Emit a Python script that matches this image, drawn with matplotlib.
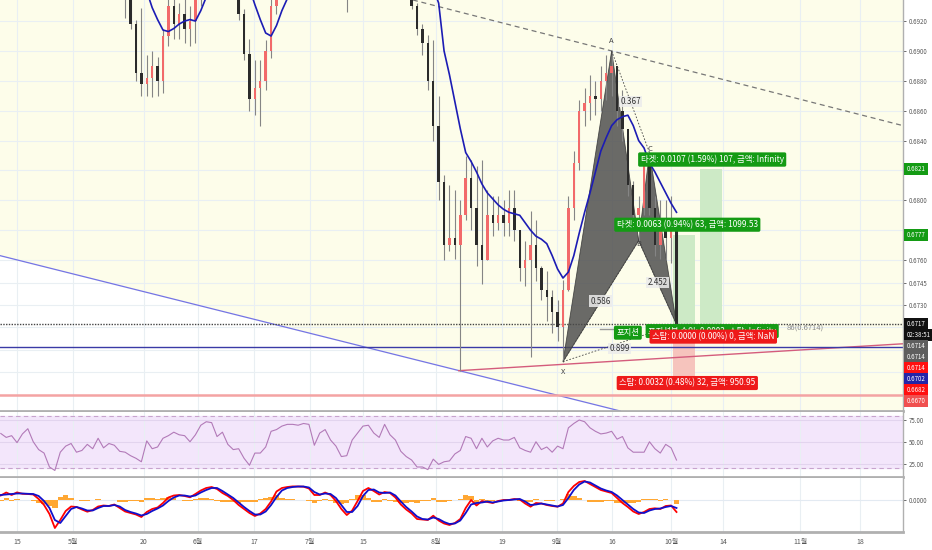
import numpy as np
import matplotlib
matplotlib.use('Agg')
import matplotlib.pyplot as plt
from matplotlib.patches import Polygon, Rectangle
import matplotlib.transforms as mtransforms

plt.rcParams['font.family'] = ['Noto Sans CJK KR', 'DejaVu Sans']

# 일봉 데이터 (거래일 인덱스 -3 ~ 122, 0 = 4월 15일)
first_day = -3
first_open = 0.7130
closes = [0.7140, 0.7160, 0.7150, 0.7150, 0.7170, 0.7160, 0.7145, 0.7135, 0.7140, 0.7115,
          0.7080, 0.7050, 0.7045, 0.7040, 0.7050, 0.7020, 0.7010, 0.7000, 0.7020, 0.7000,
          0.7005, 0.6990, 0.6965, 0.6935, 0.6918, 0.6885, 0.6878, 0.6882, 0.6890, 0.6880,
          0.6910, 0.6930, 0.6918, 0.6925, 0.6915, 0.6920, 0.6935, 0.6955, 0.6960, 0.6980,
          0.6990, 0.6975, 0.6970, 0.6955, 0.6925, 0.6898, 0.6868, 0.6875, 0.6880, 0.6900,
          0.6930, 0.6955, 0.6965, 0.6980, 0.6990, 0.6985, 0.6995, 0.7010, 0.6990, 0.6975,
          0.6985, 0.6970, 0.6960, 0.6945, 0.6950, 0.6965, 0.6985, 0.7010, 0.7030, 0.7040,
          0.7030, 0.7040, 0.7020, 0.7000, 0.6985, 0.6965, 0.6930, 0.6915, 0.6905, 0.6880,
          0.6850, 0.6812, 0.6770, 0.6775, 0.6770, 0.6790, 0.6815, 0.6795, 0.6770, 0.6760,
          0.6790, 0.6785, 0.6790, 0.6785, 0.6795, 0.6780, 0.6755, 0.6760, 0.6770, 0.6755,
          0.6740, 0.6735, 0.6725, 0.6715, 0.6740, 0.6795, 0.6825, 0.6860, 0.6865, 0.6870,
          0.6868, 0.6880, 0.6885, 0.6890, 0.6860, 0.6848, 0.6810, 0.6790, 0.6795, 0.6825,
          0.6795, 0.6770, 0.6785, 0.6775, 0.6780, 0.6717]
highs = [0.7165, 0.7175, 0.7170, 0.7165, 0.7190, 0.7180, 0.7170, 0.7155, 0.7160, 0.7150,
         0.7120, 0.7090, 0.7065, 0.7060, 0.7070, 0.7060, 0.7030, 0.7025, 0.7035, 0.7030,
         0.7020, 0.7015, 0.6995, 0.6970, 0.6940, 0.6921, 0.6929, 0.6897, 0.6900, 0.6896,
         0.6915, 0.6940, 0.6945, 0.6932, 0.6935, 0.6930, 0.6940, 0.6960, 0.6975, 0.6995,
         0.7005, 0.7000, 0.6990, 0.6980, 0.6960, 0.6928, 0.6908, 0.6894, 0.6894, 0.6907,
         0.6936, 0.6965, 0.6980, 0.6995, 0.7005, 0.7000, 0.7010, 0.7025, 0.7015, 0.6995,
         0.6995, 0.6990, 0.6980, 0.6970, 0.6960, 0.6975, 0.6995, 0.7020, 0.7045, 0.7060,
         0.7050, 0.7055, 0.7045, 0.7030, 0.7010, 0.6995, 0.6965, 0.6932, 0.6918, 0.6911,
         0.6907, 0.6870, 0.6817, 0.6810, 0.6807, 0.6800, 0.6830, 0.6827, 0.6823, 0.6827,
         0.6807, 0.6803, 0.6803, 0.6800, 0.6807, 0.6807, 0.6780, 0.6773, 0.6793, 0.6787,
         0.6756, 0.6753, 0.6740, 0.6733, 0.6747, 0.6803, 0.6833, 0.6867, 0.6875, 0.6884,
         0.6880, 0.6890, 0.6897, 0.6900, 0.6887, 0.6874, 0.6843, 0.6813, 0.6803, 0.6830,
         0.6832, 0.6803, 0.6800, 0.6800, 0.6803, 0.6786]
lows = [0.7120, 0.7130, 0.7135, 0.7130, 0.7140, 0.7145, 0.7130, 0.7120, 0.7120, 0.7100,
        0.7070, 0.7040, 0.7030, 0.7020, 0.7030, 0.7010, 0.6995, 0.6985, 0.6990, 0.6985,
        0.6985, 0.6975, 0.6950, 0.6922, 0.6915, 0.6880, 0.6870, 0.6870, 0.6869, 0.6870,
        0.6872, 0.6903, 0.6908, 0.6908, 0.6905, 0.6903, 0.6905, 0.6930, 0.6940, 0.6950,
        0.6965, 0.6960, 0.6955, 0.6940, 0.6921, 0.6894, 0.6860, 0.6857, 0.6850, 0.6874,
        0.6895, 0.6925, 0.6945, 0.6955, 0.6970, 0.6965, 0.6975, 0.6985, 0.6975, 0.6955,
        0.6960, 0.6955, 0.6945, 0.6938, 0.6926, 0.6940, 0.6955, 0.6975, 0.7000, 0.7020,
        0.7015, 0.7020, 0.7005, 0.6985, 0.6970, 0.6950, 0.6928, 0.6911, 0.6897, 0.6874,
        0.6840, 0.6800, 0.6760, 0.6766, 0.6761, 0.6686, 0.6787, 0.6780, 0.6756, 0.6744,
        0.6760, 0.6776, 0.6780, 0.6776, 0.6776, 0.6773, 0.6746, 0.6743, 0.6695, 0.6746,
        0.6733, 0.6719, 0.6711, 0.6706, 0.6692, 0.6739, 0.6787, 0.6820, 0.6850, 0.6854,
        0.6857, 0.6860, 0.6867, 0.6870, 0.6850, 0.6840, 0.6803, 0.6783, 0.6773, 0.6790,
        0.6790, 0.6763, 0.6761, 0.6760, 0.6758, 0.6716]
ma = [0.7175, 0.7172, 0.7170, 0.7168, 0.7166, 0.7163, 0.7160, 0.7156, 0.7152, 0.7146,
      0.7138, 0.7128, 0.7118, 0.7108, 0.7098, 0.7088, 0.7076, 0.7064, 0.7052, 0.7040,
      0.7028, 0.7015, 0.7002, 0.6990, 0.6975, 0.6962, 0.6950, 0.6940, 0.6929, 0.6921,
      0.6914, 0.6913, 0.6915, 0.6918, 0.6920, 0.6921, 0.6920, 0.6927, 0.6936, 0.6945,
      0.6955, 0.6962, 0.6966, 0.6966, 0.6962, 0.6955, 0.6942, 0.6931, 0.6921, 0.6912,
      0.6910, 0.6917, 0.6927, 0.6935, 0.6945, 0.6955, 0.6965, 0.6975, 0.6980, 0.6982,
      0.6982, 0.6980, 0.6975, 0.6970, 0.6965, 0.6963, 0.6965, 0.6970, 0.6980, 0.6992,
      0.7002, 0.7010, 0.7015, 0.7015, 0.7010, 0.7002, 0.6990, 0.6978, 0.6965, 0.6952,
      0.6942, 0.6932, 0.6900, 0.6884, 0.6866, 0.6848, 0.6832, 0.6826, 0.6819, 0.6811,
      0.6805, 0.6801, 0.6797, 0.6794, 0.6792, 0.6791, 0.6790, 0.6785, 0.6780, 0.6776,
      0.6774, 0.6771, 0.6763, 0.6754, 0.6748, 0.6752, 0.6763, 0.6778, 0.6792, 0.6805,
      0.6819, 0.6833, 0.6842, 0.6850, 0.6854, 0.6856, 0.6857, 0.6850, 0.6840, 0.6835,
      0.6825, 0.6819, 0.6812, 0.6805, 0.6798, 0.6792]
rsi = [59.5, 55, 57, 49, 59, 65, 50, 41, 37, 21,
       17, 38, 45, 48, 38, 40, 47, 42, 54, 43,
       48, 46, 39, 38, 34, 31, 27, 51, 42, 44,
       54, 57, 61, 58, 57, 50, 58, 69, 73, 72,
       56, 61, 47, 41, 42, 31, 23, 37, 37, 44,
       62, 64, 68, 70, 70, 69, 71, 70, 46, 60,
       64, 52, 45, 33, 34, 52, 60, 68, 69, 60,
       55, 70, 58, 52, 39, 33, 29, 21, 21, 18,
       30, 24, 27, 28, 36, 40, 56, 54, 42, 54,
       44, 51, 54, 52, 52, 55, 43, 40, 38, 50,
       41, 44, 38, 45, 42, 66, 71, 75, 73, 66,
       62, 59, 60, 62, 53, 56, 43, 38, 38, 38,
       50, 42, 37, 47, 43, 29]
# MACD (단위 0.0001)
macd = [4.5, 7.5, 5, 7.6, 6.2, 6, 5.5, 1, -5, -14,
        -28, -20, -11, -6.5, -7, -9.5, -11.7, -10, -6.5, -5.5,
        -6, -4.5, -8, -11.5, -13, -14.5, -17, -12, -9, -7.5,
        -3, 2.5, 4.5, 5, 4, 2.7, 6, 9.5, 12, 13,
        11, 7, 4, 0, -5, -9, -13, -16, -13.5, -9,
        -1.5, 8.5, 12, 13, 13.6, 13.5, 13.3, 11.5, 5, 5,
        7.5, 5, -1, -9, -15, -10.5, -1, 9, 12, 9,
        5.5, 8, 7, 2.5, -4.5, -9.5, -13.5, -19, -19.5, -20,
        -15.7, -20.5, -23.5, -25, -23, -19, -8, 0, -5.5, -1,
        -2, -3, -1, 0, 0, 1, 0.5, -3.5, -6.7, -3,
        -3.5, -5, -6, -6.7, -3.5, 8, 14, 18, 19, 16,
        13, 10, 8.5, 7, 2, -3, -7, -11.5, -14, -12,
        -9, -8.3, -9, -6, -5.5, -12]
signal = [5, 5.5, 6, 6.5, 6.5, 6.2, 6, 4, -1, -8,
          -20, -23, -16, -9, -7, -8.5, -10.5, -10.5, -8, -6,
          -6, -5, -6.5, -10, -12, -13.5, -15.5, -14, -11, -8.5,
          -5.5, -1, 2.5, 4.5, 4.5, 3.5, 4.5, 7.5, 10, 12,
          12, 9, 5.5, 2, -2.5, -7, -11, -14.5, -14.5, -11.5,
          -5, 3, 9.5, 12, 13, 13.5, 13.5, 12.5, 8, 5.5,
          6.5, 6, 2, -5, -12, -12, -6, 4, 10, 10.5,
          7.5, 7, 7.5, 4.5, -1.5, -7, -11.5, -16.5, -19, -19.5,
          -17.5, -19, -22, -24, -23.5, -20.5, -13, -4.5, -3, -2.5,
          -1.5, -2.5, -1.5, -0.5, 0, 0.5, 1, -1.5, -5, -4.5,
          -3.5, -4.5, -5.5, -6.5, -5, 2, 10, 15.5, 18.5, 17.5,
          14.5, 11.5, 9.5, 8, 4.5, 0, -4.5, -9, -12.5, -13,
          -10.5, -9, -8.5, -7, -6, -8]
hist = [-0.5, 2, -1, 1, -0.3, -0.2, -0.5, -3, -4, -6,
        -8, 3, 5, 2.5, 0, -1, -1.2, 0.5, 1.5, 0.5,
        0, 0.5, -1.5, -1.5, -1, -1, -1.5, 2, 2, 1,
        2.5, 3.5, 2, 0.5, -0.5, -0.8, 1.5, 2, 2, 1,
        -1, -2, -1.5, -2, -2.5, -2, -2, -1.5, 1, 2.5,
        3.5, 5.5, 2.5, 1, 0.6, 0, -0.2, -1, -3, -0.5,
        1, -1, -3, -4, -3, 1.5, 5, 5, 2, -1.5,
        -2, 1, -0.5, -2, -3, -2.5, -2, -2.5, -0.5, -0.5,
        1.8, -1.5, -1.5, -1, 0.5, 1.5, 5, 4.5, -2.5, 1.5,
        -0.5, -0.5, 0.5, 0.5, 0, 0.5, -0.5, -2, -1.7, 1.5,
        0, -0.5, -0.5, -0.2, 1.5, 6, 4, 2.5, 0.5, -1.5,
        -1.5, -1.5, -1, -1, -2.5, -3, -2.5, -2.5, -1.5, 1,
        1.5, 0.7, -0.5, 1, 0.5, -4]

tick_days = [0, 10.36, 23.5, 33.5, 43.85, 54.2, 64, 77.5, 89.7, 99.9, 110.1, 121, 130.6, 144.9, 156]
tick_labels = ['15', '5월', '20', '6월', '17', '7월', '15', '8월', '19', '9월', '16', '10월', '14', '11월', '18']
price_ticks = [0.6920, 0.6900, 0.6880, 0.6860, 0.6840, 0.6820, 0.6800, 0.6780, 0.6760,
               0.6745, 0.6730, 0.6715, 0.6700, 0.6685, 0.6670]
# 배지에 가려진 눈금 (격자선만 남김)
hidden_ticks = [0.6820, 0.6780, 0.6715, 0.6700, 0.6685, 0.6670]

# 하모닉 패턴 XABCD
pattern_names = ['X', 'A', 'B', 'C', 'D']
pattern_days = [101, 110, 115, 117, 122]
pattern_prices = [0.6692, 0.6900, 0.6773, 0.6832, 0.6717]
ratio_labels = ['0.586', '0.367', '2.452', '0.899']

# 포지션 도구
entry = 0.6714
target1, stop1 = 0.6777, 0.6682
target2, stop2 = 0.6821, 0.6714
pos1_days = (121.4, 125.4)
pos2_days = (126.4, 130.4)

# 추세선 앵커 (거래일, 가격)
channel_line = [(-3.15, 0.6763), (111.6, 0.6659)]
resist_line = [(110, 0.6900), (163.9, 0.6850)]
support_line = [(81.7, 0.6686), (163.9, 0.6704)]

xlim = (-3.15, 163.9)
ylim = (0.6659, 0.69341)

W, H = 932, 550
fig = plt.figure(figsize=(W / 100, H / 100), dpi=100)
ax = fig.add_axes([0, 1 - 411 / H, 903 / W, 411 / H])
ax_rsi = fig.add_axes([0, 1 - 477 / H, 903 / W, (477 - 412) / H])
ax_macd = fig.add_axes([0, 1 - 532 / H, 903 / W, (532 - 478) / H])

grid_c = '#e9eff3'
axis_c = '#555555'
for a in (ax, ax_rsi, ax_macd):
    a.set_xlim(*xlim)
    a.set_facecolor('white')
    for s in ('top', 'left'):
        a.spines[s].set_visible(False)
    a.spines['bottom'].set_color('#b0b0b0')
    a.spines['bottom'].set_linewidth(2)
    a.spines['right'].set_color('#b0b0b0')
    a.spines['right'].set_linewidth(1)
    a.yaxis.tick_right()
    a.tick_params(axis='y', labelsize=4.4, colors=axis_c, length=2.5, width=0.6, pad=1.5)
    a.set_xticks([])
    for t in tick_days:
        a.axvline(t, color=grid_c, lw=0.8, zorder=0.6)

# ---- 메인 차트 ----
ax.set_ylim(*ylim)
(cx0, cy0), (cx1, cy1) = channel_line
slope = (cy1 - cy0) / (cx1 - cx0)
ax.fill_between([xlim[0], xlim[1]],
                [cy0 + slope * (xlim[0] - cx0), cy0 + slope * (xlim[1] - cx0)],
                ylim[1] + 0.01, color='#fdfdea', zorder=0.3)
for p in price_ticks:
    ax.axhline(p, color=grid_c, lw=0.8, zorder=0.6)
ax.set_yticks(price_ticks)
ax.set_yticklabels(['' if p in hidden_ticks else f'{p:.4f}' for p in price_ticks])

ax.axline(channel_line[0], channel_line[1], color='#7474e6', lw=0.9, zorder=2)
ax.axline(resist_line[0], resist_line[1], color='#777777', lw=0.9, ls=(0, (4, 3)), zorder=2)
ax.plot([support_line[0][0], xlim[1]], [support_line[0][1], support_line[1][1]],
        color='#d45c7c', lw=1.0, zorder=2)
ax.axhline(0.6717, color='#444444', lw=1.0, ls=(0, (1, 1)), zorder=2)
ax.axhline(0.6702, color='#3a3aa6', lw=1.0, zorder=2)
ax.axhline(0.6670, color='#f4a3a3', lw=1.8, zorder=2)

# 캔들
days = np.arange(first_day, first_day + len(closes))
c = np.array(closes)
o = np.array([first_open] + closes[:-1])
hi = np.array(highs)
lo = np.array(lows)
up = c >= o
ax.vlines(days, lo, hi, color='#858585', lw=0.8, zorder=3)
body = np.maximum(np.abs(c - o), 0.00004)
ax.bar(days, body, bottom=np.minimum(o, c), width=0.45,
       color=np.where(up, '#f26a6a', '#2b2b2b'), zorder=3.2)
ax.plot(days, ma, color='#1c1cb4', lw=1.2, zorder=3.5)

# 하모닉 패턴
pts = list(zip(pattern_days, pattern_prices))
for tri in (pts[0:3], pts[2:5]):
    ax.add_patch(Polygon(tri, closed=True, fc='#4a4a4a', ec='#333333', lw=0.6, alpha=0.82, zorder=2.5))
pairs = [(0, 2), (1, 3), (2, 4), (0, 4)]
for (i, j), lab in zip(pairs, ratio_labels):
    ax.plot([pts[i][0], pts[j][0]], [pts[i][1], pts[j][1]], color='#444444', lw=0.6,
            ls=(0, (2, 2)), zorder=3.6)
    mx, my = (pts[i][0] + pts[j][0]) / 2, (pts[i][1] + pts[j][1]) / 2
    dy = -4 if lab == '0.899' else 0
    ax.annotate(lab, (mx, my), xytext=(0, dy), textcoords='offset points', ha='center', va='center',
                fontsize=5.8, color='#333333', zorder=6,
                bbox=dict(boxstyle='square,pad=0.15', fc='#ececec', ec='none', alpha=0.85))
offsets = {'X': -7.5, 'A': 7, 'B': -2.5, 'C': 2.5, 'D': -6}
for name, (d, p) in zip(pattern_names, pts):
    ax.annotate(name, (d, p), xytext=(0, offsets[name]), textcoords='offset points',
                ha='center', va='center', fontsize=5.5, color='#444444', zorder=4)

# 포지션 영역
ax.add_patch(Rectangle((pos1_days[0], entry), pos1_days[1] - pos1_days[0], target1 - entry,
                       fc='#cdeac6', ec='none', zorder=1.5))
ax.add_patch(Rectangle((pos1_days[0], stop1), pos1_days[1] - pos1_days[0], entry - stop1,
                       fc='#f6c4bd', ec='none', zorder=1.5))
ax.add_patch(Rectangle((pos2_days[0], entry), pos2_days[1] - pos2_days[0], target2 - entry,
                       fc='#cdeac6', ec='none', zorder=1.5))
ax.plot([107.9, 111], [entry, entry], color='#999999', lw=1.0, zorder=2)

green = '#149b14'
red = '#ee1a1a'
def tag(x, y, s, fc, dy, ha='center'):
    ax.annotate(s, (x, y), xytext=(0, dy), textcoords='offset points', ha=ha, va='center',
                fontsize=6.0, color='white', zorder=8,
                bbox=dict(boxstyle='round,pad=0.3,rounding_size=0.2', fc=fc, ec='none'))

m1 = sum(pos1_days) / 2
m2 = sum(pos2_days) / 2
tag(m2 + 0.2, target2, '타겟: 0.0107 (1.59%) 107, 금액: Infinity', green, 6.8)
tag(m1 + 0.6, target1, '타겟: 0.0063 (0.94%) 63, 금액: 1099.53', green, 7.2)
tag(113.0, entry, '포지션', green, -2.8)
tag(m2 + 0.2, entry, '포지션분 손익: 0.0002, 스탑: Infinity', green, -1.6)
tag(m2 + 0.4, stop2, '스탑: 0.0000 (0.00%) 0, 금액: NaN', red, -5.6)
tag(m1 + 0.6, stop1, '스탑: 0.0032 (0.48%) 32, 금액: 950.95', red, -4.6)
ax.text(142.4, entry, '86(0.6714)', fontsize=5.5, color='#8a8a8a', ha='left', va='center', zorder=7)

# 가격 축 배지
trans = mtransforms.blended_transform_factory(ax.transAxes, ax.transData)
def badge(p, s, fc):
    ax.text(1.004, p, s, transform=trans, ha='left', va='center', fontsize=4.4, color='white',
            clip_on=False, zorder=10,
            bbox=dict(boxstyle='square,pad=0.35', fc=fc, ec='none'))
badge(target2, '0.6821', green)
badge(target1, '0.6777', green)
stack = [('0.6717', '#111111'), ('02:38:51', '#111111'), ('0.6714', '#5e5e5e'),
         ('0.6714', '#5e5e5e'), ('0.6714', '#ff1010'), ('0.6702', '#2424a8'),
         ('0.6682', '#ff1010'), ('0.6670', '#f05050')]
for k, (s, fc) in enumerate(stack):
    badge(0.6717 - k * 0.00073, s, fc)

# ---- RSI ----
ax_rsi.set_ylim(9.5, 84.2)
ax_rsi.axhspan(20, 80, color='#f3e6fb', zorder=0.3)
for v in (25, 50, 75):
    ax_rsi.axhline(v, color='#e2d4ee', lw=0.8, zorder=0.7)
for v in (20, 80):
    ax_rsi.axhline(v, color='#c7a3cd', lw=0.8, ls=(0, (4, 3)), zorder=1)
ax_rsi.plot(days, rsi, color='#b27ab8', lw=0.8, zorder=2)
ax_rsi.set_yticks([25, 50, 75])
ax_rsi.set_yticklabels(['25.00', '50.00', '75.00'])

# ---- MACD ----
ax_macd.set_ylim(-0.0032, 0.0022)
ax_macd.axhline(0, color='#e3eaf2', lw=0.8, zorder=0.7)
ax_macd.bar(days, np.array(hist) * 1e-4, width=1.0, color='#ffa733', zorder=1)
ax_macd.plot(days, np.array(macd) * 1e-4, color='#ff0000', lw=1.3, zorder=2)
ax_macd.plot(days, np.array(signal) * 1e-4, color='#1010cc', lw=1.3, zorder=2.1)
ax_macd.set_yticks([0])
ax_macd.set_yticklabels(['0.0000'])
ax_macd.set_xticks(tick_days)
ax_macd.set_xticklabels(tick_labels)
ax_macd.tick_params(axis='x', labelsize=5, colors=axis_c, length=0, pad=4)

fig.savefig('out.png', dpi=100)
